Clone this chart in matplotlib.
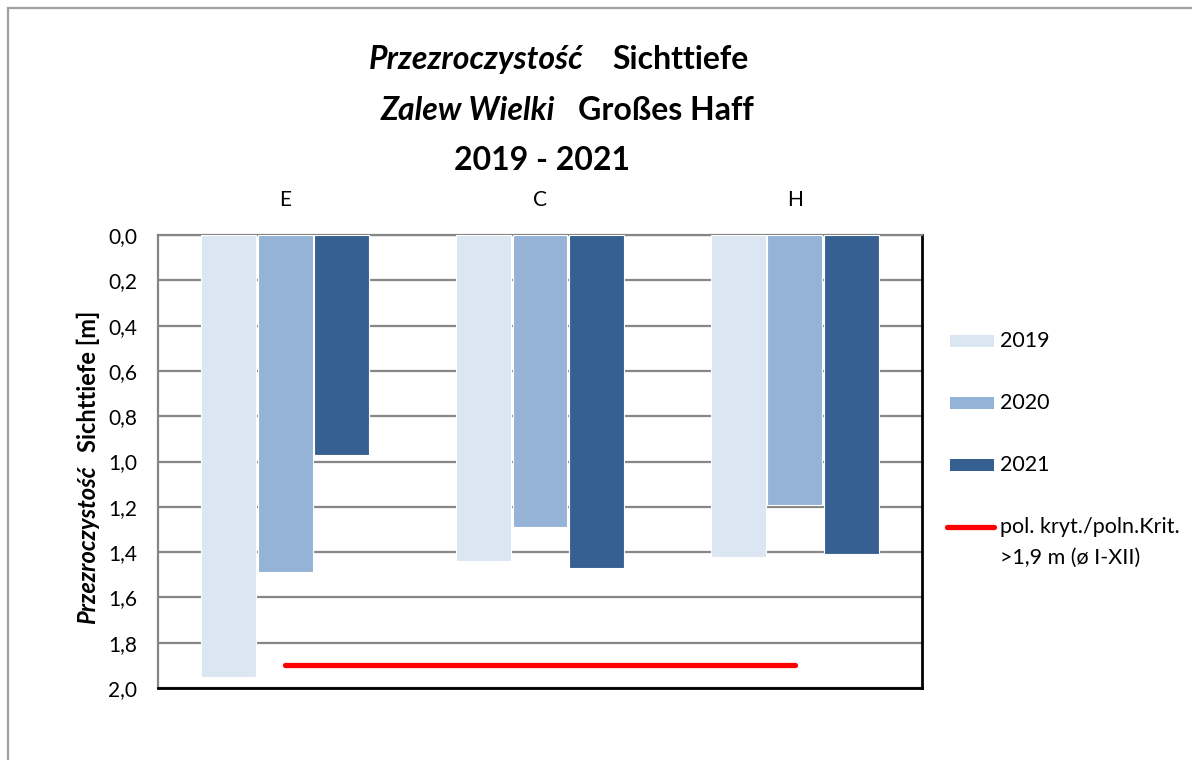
import matplotlib
matplotlib.use("Agg")
import matplotlib.pyplot as plt
from matplotlib.patches import Rectangle
from matplotlib.lines import Line2D
from matplotlib.ticker import FuncFormatter
import numpy as np

plt.rcParams['font.family'] = ['Lato', 'DejaVu Sans']

# ---- data ----
stations = ["E", "C", "H"]
years = ["2019", "2020", "2021"]
v2019 = [1.95, 1.44, 1.42]
v2020 = [1.49, 1.29, 1.19]
v2021 = [0.97, 1.47, 1.41]
criterion = [1.9, 1.9, 1.9]
criterion_label = "pol. kryt./poln.Krit.\n>1,9 m (ø I-XII)"
yticks = [0.0, 0.2, 0.4, 0.6, 0.8, 1.0, 1.2, 1.4, 1.6, 1.8, 2.0]

colors = ["#DCE6F2", "#95B3D7", "#366092"]
series = [v2019, v2020, v2021]

W, H = 1192, 760
fig = plt.figure(figsize=(W / 100, H / 100), dpi=100)

def fx(px):
    return px / W

def fy(py):
    return 1 - py / H

# figure border
fig.add_artist(Rectangle((fx(8), fy(780)), fx(1220 - 8), (780 - 8) / H,
                         transform=fig.transFigure, fill=False,
                         edgecolor="#A0A0A0", lw=1.6))

ax = fig.add_axes([fx(158), fy(688), fx(922 - 158), (688 - 235) / H])

x = np.arange(len(stations))
offsets = [-0.222, 0.0, 0.222]
for vals, c, off in zip(series, colors, offsets):
    ax.bar(x + off, vals, width=0.215, color=c, edgecolor="white",
           linewidth=0.8, zorder=3)

ax.plot(x, criterion, color="#FF0000", lw=3.8, solid_capstyle="round", zorder=4)

ax.set_xlim(-0.5, 2.5)
ax.set_ylim(2.0, 0.0)
ax.set_yticks(yticks)
ax.yaxis.set_major_formatter(FuncFormatter(lambda v, p: f"{v:.1f}".replace(".", ",")))
ax.grid(axis="y", color="#868686", lw=1.6, zorder=0)
ax.set_axisbelow(True)

ax.xaxis.tick_top()
ax.set_xticks(x)
ax.set_xticklabels(stations)
ax.tick_params(axis="x", length=0, pad=18, labelsize=15, colors="#000000")
ax.tick_params(axis="y", length=0, pad=15, labelsize=15)

for s in ["left", "top"]:
    ax.spines[s].set_color("#868686")
    ax.spines[s].set_linewidth(1.6)
for s in ["right", "bottom"]:
    ax.spines[s].set_color("#000000")
    ax.spines[s].set_linewidth(2.0)

# ---- title ----
fig.text(fx(583), fy(69), "Przezroczystość", fontsize=23, fontweight="bold",
         style="italic", ha="right", va="baseline")
fig.text(fx(612), fy(69), "Sichttiefe", fontsize=23, fontweight="bold",
         ha="left", va="baseline")
fig.text(fx(555), fy(120), "Zalew Wielki", fontsize=23, fontweight="bold",
         style="italic", ha="right", va="baseline")
fig.text(fx(578), fy(120), "Großes Haff", fontsize=23, fontweight="bold",
         ha="left", va="baseline")
fig.text(fx(542), fy(170), "2019 - 2021", fontsize=23, fontweight="bold",
         ha="center", va="baseline")

# ---- y label ----
fig.text(fx(88), fy(452), "Sichttiefe [m]", fontsize=17, fontweight="bold",
         rotation=90, ha="center", va="bottom")
fig.text(fx(88), fy(465), "Przezroczystość", fontsize=17, fontweight="bold",
         style="italic", rotation=90, ha="center", va="top")

# ---- legend (manual) ----
leg_y = [341, 403, 465]
for yy, c, lab in zip(leg_y, colors, years):
    fig.add_artist(Rectangle((fx(950), fy(yy + 6)), fx(44), 12 / H,
                             transform=fig.transFigure, facecolor=c,
                             edgecolor="none"))
    fig.text(fx(1000), fy(yy), lab, fontsize=15.5, ha="left", va="center")
fig.add_artist(Line2D([fx(947), fx(994)], [fy(527), fy(527)],
                      transform=fig.transFigure, color="#FF0000", lw=3.8,
                      solid_capstyle="round"))
fig.text(fx(1000), fy(527), criterion_label.split("\n")[0], fontsize=15.5,
         ha="left", va="center")
fig.text(fx(1000), fy(558), criterion_label.split("\n")[1], fontsize=15.5,
         ha="left", va="center")

fig.savefig("out.png", dpi=100)
